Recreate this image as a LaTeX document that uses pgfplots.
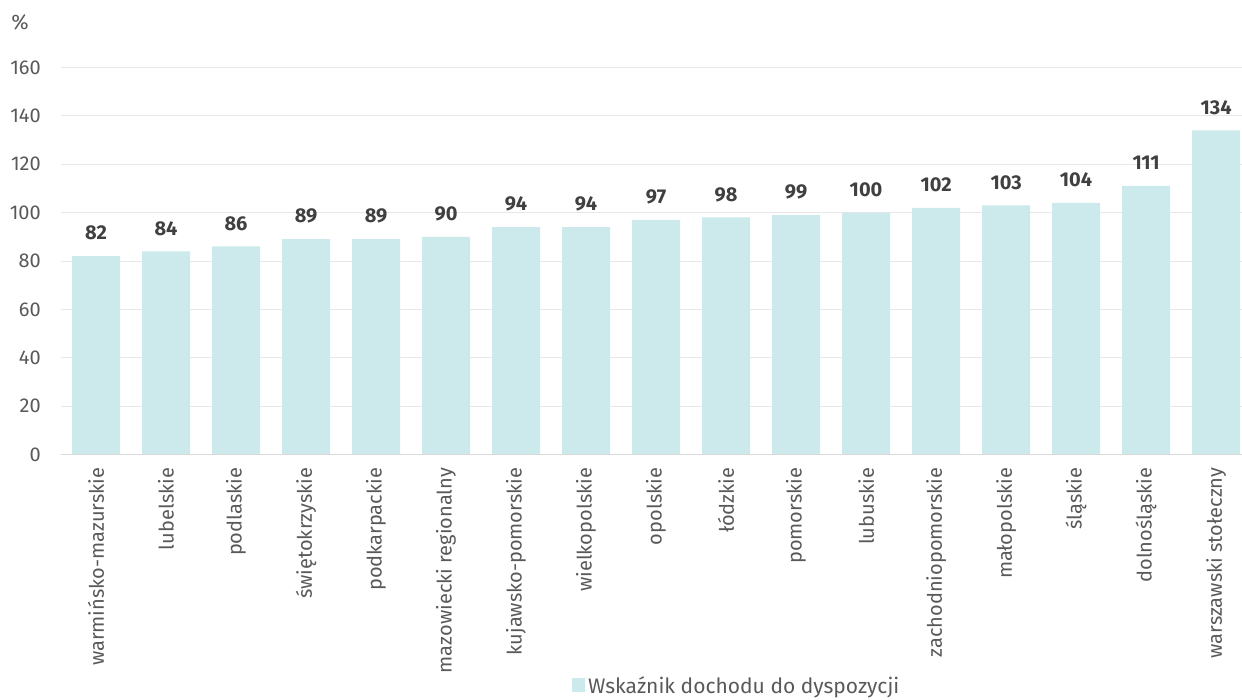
\documentclass[border=0pt]{standalone}
\usepackage{fontspec}
\setmainfont{Fira Sans}
\usepackage{pgfplots}
\pgfplotsset{compat=1.18}
\definecolor{barcol}{HTML}{CCE9EC}
\definecolor{txtgray}{HTML}{595959}
\definecolor{valgray}{HTML}{404040}
\definecolor{gridgray}{HTML}{E8E8E8}
\definecolor{axgray}{HTML}{D9D9D9}
\newcommand{\fs}{\fontsize{20}{24}\selectfont}
\begin{document}
\begin{tikzpicture}
\useasboundingbox (-61pt,-244.4pt) rectangle (1181pt,454.6pt);
\begin{axis}[
  at={(0pt,0pt)}, anchor=south west,
  scale only axis,
  width=1181pt, height=387.2pt,
  xmin=-0.5, xmax=16.37,
  ymin=0, ymax=160,
  ytick={0,20,...,160},
  xtick={0,...,16},
  xticklabels={warmińsko-mazurskie,lubelskie,podlaskie,świętokrzyskie,podkarpackie,mazowiecki regionalny,kujawsko-pomorskie,wielkopolskie,opolskie,łódzkie,pomorskie,lubuskie,zachodniopomorskie,małopolskie,śląskie,dolnośląskie,warszawski stołeczny},
  major tick length=0pt,
  axis line style={draw=none},
  ymajorgrids,
  grid style={gridgray, line width=1pt},
  /pgf/number format/assume math mode=true,
  ticklabel style={font=\fs, text=txtgray, inner sep=0pt},
  yticklabel style={anchor=east, xshift=-20pt},
  xticklabel style={rotate=90, anchor=east, xshift=-13pt},
  ybar, bar width=48pt,
  nodes near coords,
  every node near coord/.append style={font=\fs\bfseries, text=valgray, anchor=center, inner sep=0pt, yshift=23pt},
  legend style={at={(rel axis cs:0.4327,-0.594)}, anchor=west, draw=none, fill=none, inner sep=0pt,
    font=\fontsize{21}{25}\selectfont, text=txtgray, nodes={inner sep=0pt, text depth=0pt},
    /tikz/every even column/.append style={column sep=0pt}},
  legend image code/.code={\fill[barcol] (0pt,-7pt) rectangle (13pt,7pt); \path (16pt,0pt);},
  clip=false,
]
\addplot[fill=barcol, draw=none] coordinates {
  (0,82) (1,84) (2,86) (3,89) (4,89) (5,90) (6,94) (7,94) (8,97)
  (9,98) (10,99) (11,100) (12,102) (13,103) (14,104) (15,111) (16,134)};
\legend{Wskaźnik dochodu do dyspozycji}
\draw[axgray, line width=1.5pt] (rel axis cs:0,0) -- (rel axis cs:1,0);
\node[font=\fontsize{21}{25}\selectfont, text=txtgray, inner sep=0pt] at (rel axis cs:0,1) [xshift=-41pt, yshift=45.4pt] {\%};
\end{axis}
\end{tikzpicture}
\end{document}
